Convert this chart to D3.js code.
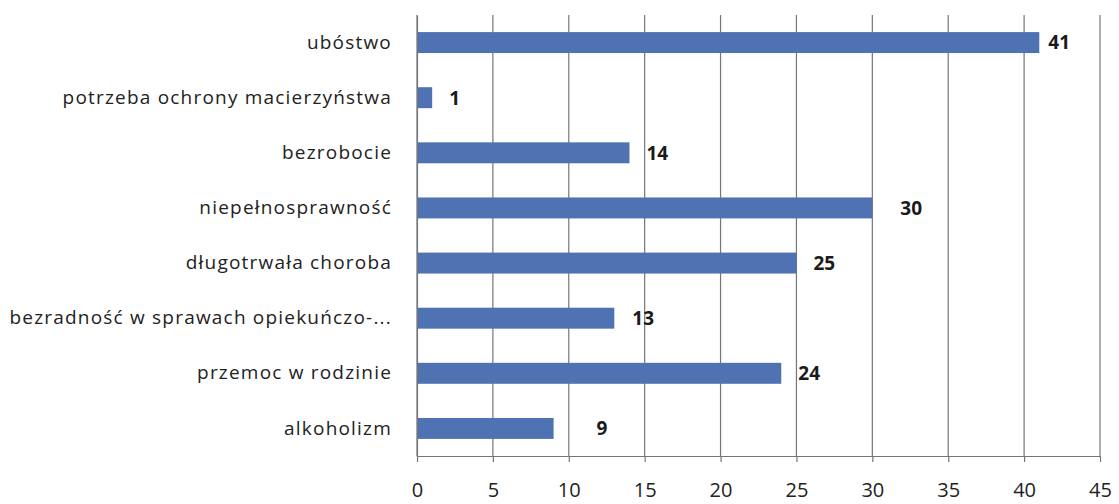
<!DOCTYPE html>
<meta charset="utf-8">
<style>
body { margin: 0; background: #fff; }
.cat text { font: 19px "Open Sans", sans-serif; fill: #222; letter-spacing: 1.2px; }
.xaxis text { font: 20px "Open Sans", sans-serif; fill: #222; }
.val { font: bold 19px "Open Sans", sans-serif; fill: #1a1a1a; }
</style>
<svg width="1119" height="504"></svg>
<script src="https://d3js.org/d3.v7.min.js"></script>
<script>

var categories = [
  "ubóstwo",
  "potrzeba ochrony macierzyństwa",
  "bezrobocie",
  "niepełnosprawność",
  "długotrwała choroba",
  "bezradność w sprawach opiekuńczo-...",
  "przemoc w rodzinie",
  "alkoholizm"
];
var values = [41, 1, 14, 30, 25, 13, 24, 9];
var xTicks = [0, 5, 10, 15, 20, 25, 30, 35, 40, 45];

var svg = d3.select("svg"),
    margin = {top: 15, right: 19, bottom: 48, left: 417},
    width = +svg.attr("width") - margin.left - margin.right,
    height = +svg.attr("height") - margin.top - margin.bottom;

var g = svg.append("g")
    .attr("transform", "translate(" + margin.left + "," + margin.top + ")");

var x = d3.scaleLinear()
    .domain([0, 45])
    .range([0, width]);

var y = d3.scaleBand()
    .domain(categories)
    .range([0, height])
    .paddingInner(0.62)
    .paddingOuter(0.31);

// vertical gridlines
g.append("g")
  .selectAll("line")
  .data(xTicks)
  .enter().append("line")
    .attr("x1", function(d) { return x(d); })
    .attr("x2", function(d) { return x(d); })
    .attr("y1", 0)
    .attr("y2", height)
    .attr("stroke", "#74767e")
    .attr("stroke-width", 1.2);

// bars
g.append("g")
  .selectAll("rect")
  .data(values)
  .enter().append("rect")
    .attr("x", x(0))
    .attr("y", function(d, i) { return y(categories[i]); })
    .attr("width", function(d) { return x(d) - x(0); })
    .attr("height", y.bandwidth())
    .attr("fill", "#4e72b2");

// value labels (offsets in px after the bar end, as placed in the original)
var labelNudge = [9, 17, 17, 28, 17, 18, 17, 43];
g.append("g")
  .selectAll("text")
  .data(values)
  .enter().append("text")
    .attr("class", "val")
    .attr("x", function(d, i) { return x(d) + labelNudge[i]; })
    .attr("y", function(d, i) { return y(categories[i]) + y.bandwidth() / 2; })
    .attr("dy", "0.36em")
    .text(function(d) { return d; });

// category axis
var yAxis = g.append("g")
    .attr("class", "cat")
    .call(d3.axisLeft(y).tickSize(0).tickPadding(25));
yAxis.select(".domain")
    .attr("stroke", "#74767e")
    .attr("stroke-width", 1.2);

// value axis
var xAxis = g.append("g")
    .attr("class", "xaxis")
    .attr("transform", "translate(0," + height + ")")
    .call(d3.axisBottom(x).tickValues(xTicks).tickSize(6).tickPadding(21).tickSizeOuter(0));
xAxis.select(".domain")
    .attr("stroke", "#74767e")
    .attr("stroke-width", 1.2);
xAxis.selectAll(".tick line")
    .attr("stroke", "#74767e")
    .attr("stroke-width", 1.2);

</script>
